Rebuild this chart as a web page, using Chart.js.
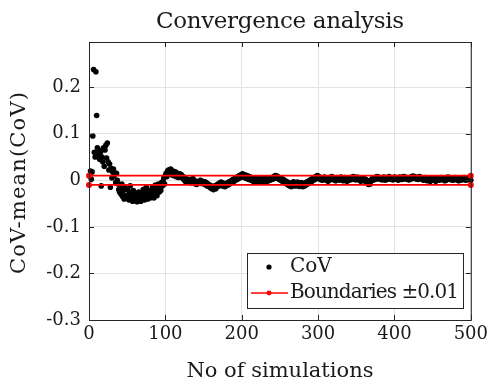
<!DOCTYPE html>
<html>
<head>
<meta charset="utf-8">
<script src="https://cdn.jsdelivr.net/npm/chart.js@4.4.1/dist/chart.umd.min.js"></script>
<style>
  html, body { margin: 0; padding: 0; background: #fff; }
  #wrap { width: 492px; height: 386px; }
</style>
</head>
<body>
<div id="wrap"><canvas id="c" width="492" height="386"></canvas></div>
<script>
(function () {
  "use strict";

  // ── Data ─────────────────────────────────────────────────────────
  // CoV - mean(CoV) for simulations 1..500
  const covValues = [
    0.010, 0.020, 0.002, 0.018, 0.095, 0.238, 0.060, 0.050, 0.233, 0.139,
    0.070, 0.055, 0.065, 0.045, 0.060, -0.012, 0.050, 0.040, 0.070, 0.030,
    0.065, 0.075, 0.048, 0.080, 0.040, 0.022, 0.035, -0.015, 0.025, 0.005,
    0.018, 0.024, 0.010, 0.015, -0.005, 0.015, 0.000, -0.008, -0.020, -0.025,
    -0.018, -0.030, -0.008, -0.035, -0.022, -0.040, -0.015, -0.033, -0.038, -0.020,
    -0.035, -0.042, -0.025, -0.012, -0.040, -0.030, -0.045, -0.022, -0.036, -0.028,
    -0.044, -0.030, -0.046, -0.038, -0.025, -0.042, -0.035, -0.045, -0.028, -0.040,
    -0.020, -0.036, -0.042, -0.026, -0.015, -0.034, -0.040, -0.022, -0.030, -0.038,
    -0.025, -0.035, -0.015, -0.030, -0.038, -0.020, -0.010, -0.028, -0.033, -0.018,
    -0.008, -0.025, -0.015, -0.022, -0.005, -0.012, -0.002, 0.005, -0.008, 0.010,
    0.015, 0.008, 0.020, 0.022, 0.014, 0.018, 0.024, 0.012, 0.016, 0.020,
    0.010, 0.014, 0.018, 0.008, 0.012, 0.015, 0.006, 0.010, 0.014, 0.008,
    0.012, 0.005, 0.008, 0.002, 0.006, -0.002, 0.003, 0.000, -0.004, 0.002,
    -0.003, 0.001, -0.005, 0.000, -0.002, 0.004, -0.003, -0.006, -0.001, -0.008,
    -0.009, -0.004, -0.006, -0.002, -0.005, 0.000, -0.003, -0.007, -0.002, -0.005,
    -0.008, -0.003, -0.010, -0.006, -0.012, -0.008, -0.014, -0.010, -0.016, -0.012,
    -0.018, -0.014, -0.020, -0.015, -0.012, -0.018, -0.010, -0.014, -0.008, -0.012,
    -0.006, -0.010, -0.004, -0.008, -0.012, -0.006, -0.010, -0.014, -0.008, -0.011,
    -0.006, -0.010, -0.004, -0.008, -0.002, -0.006, 0.000, -0.004, 0.002, -0.002,
    0.004, 0.000, 0.006, 0.002, 0.008, 0.004, 0.010, 0.006, 0.012, 0.008,
    0.014, 0.010, 0.006, 0.012, 0.008, 0.004, 0.010, 0.006, 0.002, 0.008,
    0.004, 0.000, 0.006, 0.002, -0.002, 0.004, 0.000, -0.003, 0.003, -0.001,
    0.002, -0.002, 0.004, 0.000, -0.003, 0.002, -0.001, 0.003, -0.002, 0.001,
    0.004, 0.000, -0.002, 0.002, -0.001, 0.003, 0.000, 0.005, 0.002, 0.006,
    0.003, 0.008, 0.005, 0.010, 0.006, 0.009, 0.004, 0.007, 0.002, 0.005,
    0.000, 0.004, -0.002, 0.002, -0.004, 0.000, -0.006, -0.002, -0.008, -0.004,
    -0.010, -0.006, -0.012, -0.008, -0.014, -0.005, -0.010, -0.003, -0.008, -0.012,
    -0.006, -0.010, -0.004, -0.009, -0.013, -0.007, -0.011, -0.005, -0.009, -0.014,
    -0.008, -0.012, -0.006, -0.010, -0.004, -0.008, -0.002, -0.006, 0.000, -0.004,
    0.002, -0.002, 0.004, 0.000, 0.006, 0.002, 0.008, 0.004, 0.010, 0.005,
    0.008, 0.003, 0.006, 0.001, 0.005, 0.000, 0.004, 0.007, 0.002, 0.006,
    0.000, 0.004, -0.002, 0.003, 0.006, 0.001, 0.005, 0.008, 0.003, 0.006,
    0.001, 0.004, -0.001, 0.003, 0.006, 0.002, 0.005, 0.000, 0.004, 0.007,
    0.002, 0.005, -0.001, 0.003, 0.006, 0.001, 0.004, -0.002, 0.002, 0.005,
    0.000, 0.003, 0.006, 0.002, 0.005, 0.008, 0.003, 0.006, 0.001, 0.004,
    0.007, 0.002, 0.005, 0.000, 0.003, -0.002, 0.002, 0.005, 0.001, 0.004,
    -0.001, 0.002, -0.004, 0.000, -0.006, -0.009, -0.004, -0.008, -0.002, 0.001,
    0.004, 0.000, 0.003, 0.006, 0.002, 0.005, 0.008, 0.004, 0.007, 0.003,
    0.006, 0.002, 0.005, 0.001, 0.004, 0.007, 0.003, 0.000, 0.004, 0.006,
    0.002, 0.005, 0.008, 0.004, 0.006, 0.002, 0.005, 0.001, 0.004, 0.007,
    0.003, 0.006, 0.002, 0.005, 0.000, 0.004, 0.007, 0.003, 0.006, 0.002,
    0.005, 0.008, 0.004, 0.007, 0.003, 0.006, 0.002, 0.005, 0.001, 0.004,
    0.007, 0.003, 0.006, 0.009, 0.005, 0.008, 0.004, 0.007, 0.003, 0.006,
    0.002, 0.005, 0.008, 0.004, 0.006, 0.002, 0.005, 0.000, 0.003, 0.006,
    0.001, 0.004, -0.001, 0.003, 0.000, 0.004, -0.002, 0.002, 0.005, 0.001,
    0.004, 0.000, 0.003, -0.002, 0.002, 0.005, 0.001, 0.004, 0.000, 0.003,
    0.006, 0.002, 0.005, 0.001, 0.004, -0.001, 0.003, 0.000, 0.004, 0.007,
    0.003, 0.006, 0.002, 0.005, 0.001, 0.004, 0.000, 0.003, 0.006, 0.002,
    0.005, 0.001, 0.004, -0.001, 0.003, 0.000, 0.004, 0.001, 0.005, 0.002,
    0.006, 0.003, 0.000, 0.004, 0.001, 0.005, 0.002, 0.006, 0.003, 0.000
  ];
  const boundX = [0, 500];
  const upperBound = [0.01, 0.01];
  const lowerBound = [-0.01, -0.01];
  const xTicks = [0, 100, 200, 300, 400, 500];
  const yTicks = [-0.3, -0.2, -0.1, 0, 0.1, 0.2];

  const FONT = "'DejaVu Serif', 'Liberation Serif', serif";
  const AXIS = "#262626";
  const INK = "#1a1a1a";

  function pts(xs, ys) {
    return xs.map(function (x, i) { return { x: x, y: ys[i] }; });
  }

  const covPoints = covValues.map(function (v, i) { return { x: i + 1, y: v }; });

  // draw text fitted to the width it has in the original
  function fitText(ctx, text, x, y, size, width) {
    ctx.font = size + "px " + FONT;
    ctx.letterSpacing = "0px";
    const w = ctx.measureText(text).width;
    const sp = (width - w) / (text.length - 1);
    ctx.letterSpacing = sp.toFixed(2) + "px";
    ctx.textAlign = "left";
    ctx.fillText(text, x - width / 2, y);
    ctx.letterSpacing = "0px";
  }

  // ── Plugin: box with inward ticks, titles, legend ───────────────
  const framePlugin = {
    id: "frame",
    afterDraw: function (chart) {
      const ctx = chart.ctx;
      const a = chart.chartArea;
      const xs = chart.scales.x, ys = chart.scales.y;
      ctx.save();
      ctx.strokeStyle = AXIS;
      ctx.lineWidth = 1;
      ctx.strokeRect(a.left + 0.5, a.top + 0.5, a.right - a.left, a.bottom - a.top);
      ctx.beginPath();
      xTicks.forEach(function (t) {
        const px = Math.round(xs.getPixelForValue(t)) + 0.5;
        ctx.moveTo(px, a.bottom); ctx.lineTo(px, a.bottom - 5);
        ctx.moveTo(px, a.top); ctx.lineTo(px, a.top + 5);
      });
      yTicks.forEach(function (t) {
        const py = Math.round(ys.getPixelForValue(t)) + 0.5;
        ctx.moveTo(a.left, py); ctx.lineTo(a.left + 5, py);
        ctx.moveTo(a.right, py); ctx.lineTo(a.right - 5, py);
      });
      ctx.stroke();

      ctx.fillStyle = INK;
      ctx.textBaseline = "alphabetic";
      const cx = (a.left + a.right) / 2;
      fitText(ctx, "Convergence analysis", cx, 28, 23, 248);
      fitText(ctx, "No of simulations", cx, 377, 21, 187);
      ctx.save();
      ctx.translate(25, 183);
      ctx.rotate(-Math.PI / 2);
      fitText(ctx, "CoV-mean(CoV)", 0, 0, 21, 182);
      ctx.restore();

      // legend
      const lx = 247, ly = 253, lw = 216, lh = 55;
      ctx.fillStyle = "#fff";
      ctx.fillRect(lx, ly, lw, lh);
      ctx.strokeStyle = AXIS;
      ctx.lineWidth = 1;
      ctx.strokeRect(lx + 0.5, ly + 0.5, lw, lh);
      ctx.fillStyle = "#000";
      ctx.beginPath();
      ctx.arc(269, 267, 2.6, 0, Math.PI * 2);
      ctx.fill();
      ctx.strokeStyle = "#ff0000";
      ctx.lineWidth = 1.6;
      ctx.beginPath();
      ctx.moveTo(251, 293); ctx.lineTo(288, 293);
      ctx.stroke();
      ctx.fillStyle = "#ff0000";
      ctx.beginPath();
      ctx.arc(269, 293, 2.4, 0, Math.PI * 2);
      ctx.fill();
      ctx.fillStyle = INK;
      ctx.textBaseline = "middle";
      ctx.font = "20px " + FONT;
      ctx.textAlign = "left";
      ctx.fillText("CoV", 290, 267);
      fitText(ctx, "Boundaries \u00b10.01", 290 + 169 / 2, 293, 20, 169);
      ctx.restore();
    }
  };

  // ── Chart ────────────────────────────────────────────────────────
  new Chart(document.getElementById("c"), {
    type: "scatter",
    data: {
      datasets: [
        {
          label: "CoV",
          data: covPoints,
          backgroundColor: "#000",
          borderColor: "#000",
          pointRadius: 2.8,
          pointBorderWidth: 0,
          showLine: false,
          order: 2,
          clip: false
        },
        {
          label: "Boundaries \u00b10.01",
          data: pts(boundX, upperBound),
          showLine: true,
          borderColor: "#ff0000",
          backgroundColor: "#ff0000",
          borderWidth: 1.8,
          pointRadius: 3,
          pointBorderWidth: 0,
          order: 1,
          clip: false
        },
        {
          label: "lower",
          data: pts(boundX, lowerBound),
          showLine: true,
          borderColor: "#ff0000",
          backgroundColor: "#ff0000",
          borderWidth: 1.8,
          pointRadius: 3,
          pointBorderWidth: 0,
          order: 1,
          clip: false
        }
      ]
    },
    options: {
      responsive: false,
      animation: false,
      events: [],
      layout: { padding: { top: 42, right: 19, bottom: 0, left: 0 } },
      plugins: {
        legend: { display: false },
        title: { display: false },
        tooltip: { enabled: false }
      },
      scales: {
        x: {
          type: "linear",
          min: 0,
          max: 500,
          afterBuildTicks: function (s) { s.ticks = xTicks.map(function (v) { return { value: v }; }); },
          afterFit: function (s) { s.height = 66; },
          grid: { color: "#e3e3e3", drawTicks: false },
          border: { display: false },
          ticks: { color: INK, font: { family: FONT, size: 18 }, padding: 4, maxRotation: 0 }
        },
        y: {
          type: "linear",
          min: -0.3,
          max: 0.297,
          afterBuildTicks: function (s) { s.ticks = yTicks.map(function (v) { return { value: v }; }); },
          afterFit: function (s) { s.width = 89; },
          grid: { color: "#e3e3e3", drawTicks: false },
          border: { display: false },
          ticks: {
            color: INK,
            font: { family: FONT, size: 18 },
            padding: 8,
            callback: function (v) { return String(Number(v.toFixed(1))); }
          }
        }
      }
    },
    plugins: [framePlugin]
  });
})();
</script>
</body>
</html>
